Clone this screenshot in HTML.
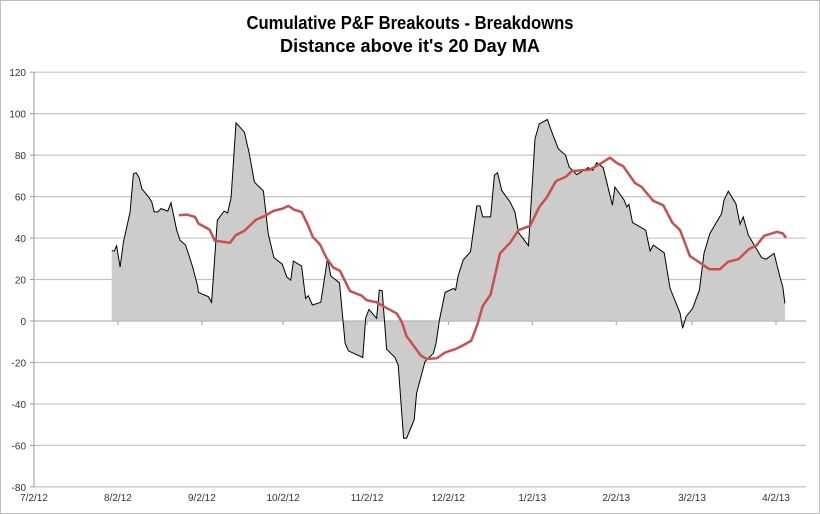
<!DOCTYPE html>
<html><head><meta charset="utf-8"><style>
html,body{margin:0;padding:0;background:#fff}
body{width:820px;height:514px;overflow:hidden;position:relative;font-family:"Liberation Sans",sans-serif}
#frame{position:absolute;left:0;top:0;width:818px;height:512px;border:1px solid #bdbdbd}
</style></head><body>
<div id="frame"></div>
<svg id="chart" width="820" height="514" style="position:absolute;left:0;top:0">
<text x="410" y="29" text-anchor="middle" font-size="18" font-weight="bold" fill="#000" textLength="327" lengthAdjust="spacingAndGlyphs">Cumulative P&amp;F Breakouts - Breakdowns</text>
<text x="410" y="52" text-anchor="middle" font-size="18" font-weight="bold" fill="#000" textLength="260" lengthAdjust="spacingAndGlyphs">Distance above it's 20 Day MA</text>
</svg>
<script>
// days since 7/2/12 and values
const breakoutDays=[28.7,29.7,30.5,31.8,33,35.5,36.7,37.7,38.9,39.8,42.2,43.5,44.4,45.7,46.9,49.4,50.6,52.7,53.9,56,58.6,60.5,60.7,64.4,65.6,67.7,70.2,71.5,72.8,74.6,77.7,79.5,81.4,84.7,86.5,88.6,91.7,93.3,94.8,95.8,98.8,100.3,101.3,102.8,105.9,108.4,109.6,112.8,114.9,116.1,121.4,122.5,123.7,126.5,127.5,128.6,130.2,133.3,134.5,136.5,137.6,140.4,141.3,144.4,147.5,148.5,149.7,151.8,154.9,155.7,156.7,158.5,161.2,163.5,164.7,165.7,168.6,170,171.2,172.7,175.8,177.6,178.9,182.6,185,186.6,189.6,191.2,193.6,196.3,197.6,200.4,204.7,206.3,207.8,210.2,213.6,214.5,218,218.9,219.7,221,225.9,227.5,228.7,232.7,234.9,238.6,239.5,240.8,243.2,245.7,247.4,249.6,253.9,254.8,256.4,259.2,260.7,261.9,263.8,268.7,270.3,273.3,275.5,276.5,277.3];
const breakoutValues=[33.8,33.8,36.3,26,38,52.6,71,71.5,69,63.8,60,57.4,52.6,52.6,54.2,53,57,43.8,39,36.6,26,16.5,13.8,11.7,9,48.6,53,52.1,59.5,95.6,91.1,80.7,67,62.7,42.2,30.6,27.4,21.3,19.7,28.9,26.5,10.9,12.2,7.7,9,30.2,21.7,18.4,-10.7,-14.4,-17.6,1.6,5.6,1.3,14.9,14.6,-13.6,-17.6,-21.2,-56.5,-56.5,-47.6,-34.8,-19.6,-15.6,-10.7,0.5,13.8,15.7,14.9,22.1,29.4,33.4,55.5,55.5,50.2,50.2,70.3,71.5,63,57.4,52.6,42.7,36.3,87.9,95.1,97.2,91.1,83.1,79.9,74.3,70.6,74,72.7,76.4,74,55.8,64.6,58.2,55,56.3,47.5,43.8,33.8,36.6,32.9,15.7,3.7,-3.5,2.1,6.1,14.9,32.6,42.2,51.8,58.2,62.6,56.6,46.7,50.2,41.4,30.6,29.8,32.6,21,16.5,8.5];
const maDays=[53.5,56.4,59.5,60.7,64.8,66.8,72.4,74.5,77.7,82,85.3,88.4,91.8,93.9,96.1,98.8,101.3,102.9,105.6,108.1,110.5,113,116.7,121,122.8,126.5,130,133.9,135.8,137.6,139.9,142.8,145,148.7,151.8,155.5,158,161.4,163.7,165.7,168.6,172.1,175.8,178.9,183.2,186.6,189.3,192.8,196.3,198.6,205.3,209.6,212.7,215.2,217.6,221.9,224.4,228.7,232.4,235.8,238.6,242.2,245.9,249.4,253.3,256.4,260.1,263.8,266.9,269.6,274.5,276.5,277.7];
const maValues=[51,51.3,50.2,47,44.1,38.7,37.7,41.4,43.5,48.9,50.7,53.1,54.2,55.5,53.7,52.5,45.9,40.6,36.9,30.2,25.8,24.2,14.4,12.2,10.1,9,6.4,3.7,-0.3,-7.4,-11.4,-16.6,-18.3,-18,-15.2,-13.6,-12,-9.6,-1.9,7.2,12.8,32.6,37.7,43.8,45.9,55,59.5,67.5,69.5,72.3,73,76.2,78.8,76.2,74.6,66.6,64.6,57.9,55.8,47.3,43.8,31.3,28.1,25,25,28.6,29.8,34.5,36.6,41.1,43,42.2,40.1];
const yTicks=[120,100,80,60,40,20,0,-20,-40,-60,-80];
const xTickDays=[0,31,62,92,123,153,184,215,243,274];
const xTickLabels=["7/2/12","8/2/12","9/2/12","10/2/12","11/2/12","12/2/12","1/2/13","2/2/13","3/2/13","4/2/13"];

const NS="http://www.w3.org/2000/svg";
const svg=document.getElementById('chart');
const L=34,R=806,T=72.3,B=487;
const xS=d=>L+d*2.708;
const yS=v=>321-v*2.0735;
function mk(tag,attrs,parent){const e=document.createElementNS(NS,tag);for(const k in attrs)e.setAttribute(k,attrs[k]);(parent||svg).appendChild(e);return e;}

yTicks.forEach(v=>{
  const y=yS(v);
  const g=mk('line',{x1:L,x2:R,y1:y,y2:y,stroke:'#c4c4c4','stroke-width':1.2});
  
  
  const tk=mk('line',{x1:L-4,x2:L,y1:y,y2:y,stroke:'#999'});
  
  
  const t=mk('text',{x:L-8,y:y+4,'text-anchor':'end','font-size':10,fill:'#333'});
  t.textContent=v;
  
  
});
const ax=mk('line',{x1:L,x2:L,y1:T,y2:B,stroke:'#999'});


xTickDays.forEach((d,i)=>{
  const x=xS(d);
  const tk=mk('line',{x1:x,x2:x,y1:yS(0),y2:yS(0)+4,stroke:'#999'});
  
  
  const t=mk('text',{x:x,y:501,'text-anchor':'middle','font-size':10,fill:'#333'});
  t.textContent=xTickLabels[i];
  
  
});
let pts=breakoutDays.map((d,i)=>xS(d).toFixed(1)+','+yS(breakoutValues[i]).toFixed(1));
const area=mk('polygon',{points:xS(breakoutDays[0])+','+yS(0)+' '+pts.join(' ')+' '+xS(breakoutDays[breakoutDays.length-1])+','+yS(0),fill:'#cccccc',stroke:'none'});


const zl=mk('line',{x1:L,x2:R,y1:yS(0),y2:yS(0),stroke:'#bbb','stroke-width':1.2});


const line=mk('polyline',{points:pts.join(' '),fill:'none',stroke:'#000','stroke-width':1});


const ma=mk('polyline',{points:maDays.map((d,i)=>xS(d).toFixed(1)+','+yS(maValues[i]).toFixed(1)).join(' '),fill:'none',stroke:'#c9504c','stroke-width':2.5,'stroke-linejoin':'round'});


</script>
</body></html>
